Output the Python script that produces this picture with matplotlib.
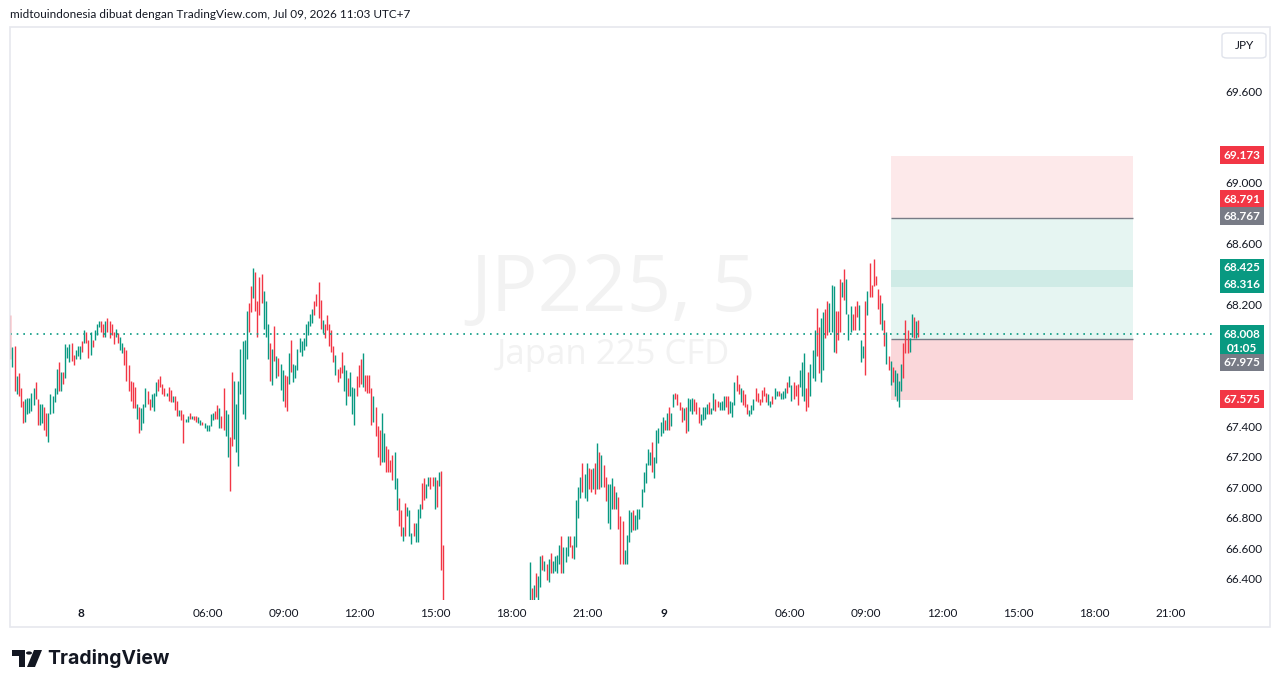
import matplotlib
matplotlib.use("Agg")
import matplotlib.pyplot as plt
import matplotlib.patches as mpatches
import matplotlib.transforms as mtrans
import numpy as np

# ---------------- data ----------------
# session A (Jul 8, until ~15:15)
highs_a = [68.13, 67.92, 67.93, 67.73, 67.75, 67.65, 67.57, 67.58, 67.59, 67.59,
           67.62, 67.65, 67.69, 67.58, 67.55, 67.55, 67.53, 67.49, 67.49, 67.61,
           67.60, 67.65, 67.78, 67.82, 67.76, 67.76, 67.94, 67.92, 67.94, 67.95,
           67.87, 67.90, 67.93, 67.93, 67.96, 68.03, 68.02, 67.97, 68.02, 67.97,
           68.03, 68.07, 68.09, 68.09, 68.07, 68.09, 68.11, 68.09, 68.07, 68.02,
           68.04, 68.01, 67.99, 67.95, 67.92, 67.90, 67.80, 67.70, 67.69, 67.66,
           67.55, 67.53, 67.52, 67.55, 67.65, 67.63, 67.58, 67.61, 67.62, 67.69,
           67.71, 67.73, 67.68, 67.65, 67.62, 67.66, 67.64, 67.60, 67.60, 67.57,
           67.51, 67.51, 67.48, 67.45, 67.47, 67.49, 67.47, 67.47, 67.47, 67.46,
           67.44, 67.43, 67.42, 67.41, 67.41, 67.48, 67.49, 67.50, 67.54, 67.52,
           67.47, 67.65, 67.51, 67.48, 67.33, 67.76, 67.70, 67.55, 67.70, 67.91,
           67.96, 67.97, 68.16, 68.21, 68.32, 68.44, 68.41, 68.22, 68.38, 68.40,
           68.29, 68.22, 68.07, 67.95, 67.91, 68.06, 67.86, 67.85, 67.81, 67.77,
           67.74, 67.73, 67.88, 67.97, 67.81, 67.80, 67.91, 67.98, 67.96, 67.98,
           68.07, 68.09, 68.14, 68.17, 68.22, 68.27, 68.35, 68.23, 68.10, 68.07,
           68.13, 68.07, 68.03, 67.93, 67.87, 67.78, 67.79, 67.89, 67.80, 67.77,
           67.72, 67.76, 67.66, 67.65, 67.73, 67.80, 67.84, 67.88, 67.74, 67.74,
           67.74, 67.65, 67.60, 67.53, 67.40, 67.38, 67.49, 67.36, 67.27, 67.25,
           67.18, 67.21, 67.23, 67.06, 66.93, 66.85, 66.74, 66.90, 66.87, 66.85,
           66.70, 66.77, 66.77, 66.86, 66.89, 67.03, 67.06, 67.02, 67.07, 67.07,
           67.07, 67.07, 67.05, 67.10, 67.11, 66.62]
lows_a = [67.84, 67.79, 67.63, 67.61, 67.60, 67.53, 67.42, 67.43, 67.48, 67.49,
          67.50, 67.54, 67.58, 67.41, 67.41, 67.42, 67.38, 67.34, 67.30, 67.48,
          67.49, 67.56, 67.61, 67.63, 67.63, 67.68, 67.72, 67.85, 67.82, 67.83,
          67.80, 67.84, 67.86, 67.84, 67.89, 67.95, 67.95, 67.85, 67.87, 67.92,
          67.97, 68.00, 68.05, 68.02, 67.99, 67.99, 68.02, 67.98, 68.00, 67.94,
          67.99, 67.95, 67.90, 67.88, 67.80, 67.70, 67.63, 67.57, 67.52, 67.52,
          67.45, 67.36, 67.38, 67.42, 67.53, 67.55, 67.51, 67.53, 67.50, 67.60,
          67.63, 67.66, 67.61, 67.60, 67.60, 67.57, 67.56, 67.56, 67.51, 67.47,
          67.47, 67.44, 67.29, 67.43, 67.43, 67.45, 67.45, 67.44, 67.43, 67.42,
          67.41, 67.41, 67.39, 67.37, 67.37, 67.40, 67.44, 67.45, 67.45, 67.39,
          67.39, 67.38, 67.34, 67.20, 66.98, 67.27, 67.32, 67.23, 67.14, 67.61,
          67.48, 67.45, 67.84, 68.02, 68.15, 68.24, 68.16, 67.99, 68.13, 68.21,
          68.04, 67.99, 67.84, 67.70, 67.67, 67.83, 67.72, 67.73, 67.64, 67.57,
          67.53, 67.50, 67.68, 67.76, 67.69, 67.72, 67.77, 67.89, 67.86, 67.90,
          67.93, 68.00, 68.06, 68.08, 68.13, 68.19, 68.11, 68.04, 68.01, 67.98,
          68.03, 67.93, 67.89, 67.82, 67.74, 67.69, 67.72, 67.75, 67.63, 67.54,
          67.60, 67.60, 67.48, 67.41, 67.60, 67.66, 67.68, 67.66, 67.63, 67.62,
          67.62, 67.41, 67.43, 67.34, 67.20, 67.15, 67.17, 67.17, 67.10, 67.10,
          67.10, 67.05, 66.99, 66.85, 66.75, 66.68, 66.65, 66.68, 66.81, 66.68,
          66.63, 66.68, 66.64, 66.64, 66.80, 66.86, 66.92, 66.93, 67.01, 66.99,
          67.01, 66.86, 66.87, 67.01, 66.46, 66.20]
dirs_a = ("DUDUDDDUUUUUDDUUDDUUUUUDUDUUUDDUUUDUDDUDUUUDDUDDDDUDUUDDDDDDUDUUUDDUUUDDDDUDDUDDUDD"
          "UUDUDDUUDUUUUUDDUDDUUDDUUUUUUUDDUDDDDUUUDUDUDUUDDUDUUUUUUUUUUDDDDUDDDDDUDDDUUDUUUDDD"
          "UDDDDUDDDUUDDDDUUDDUDUUUDUUUDDUUD")[:206]

# session B (from ~18:30 Jul 8 to now)
highs_b = [66.51, 66.34, 66.36, 66.44, 66.42, 66.55, 66.56, 66.52, 66.50, 66.53,
           66.57, 66.52, 66.55, 66.56, 66.62, 66.68, 66.61, 66.61, 66.68, 66.68,
           66.62, 66.68, 66.92, 67.00, 67.07, 67.16, 67.09, 67.16, 67.13, 67.12,
           67.13, 67.16, 67.29, 67.23, 67.21, 67.15, 67.07, 67.02, 67.02, 67.06,
           67.01, 66.97, 66.94, 66.81, 66.78, 66.59, 66.69, 66.85, 66.84, 66.85,
           66.82, 66.86, 66.86, 66.99, 67.10, 67.16, 67.25, 67.23, 67.30, 67.20,
           67.38, 67.39, 67.43, 67.46, 67.44, 67.49, 67.53, 67.49, 67.61, 67.62,
           67.61, 67.56, 67.53, 67.52, 67.53, 67.59, 67.58, 67.59, 67.58, 67.56,
           67.53, 67.48, 67.53, 67.53, 67.55, 67.56, 67.52, 67.62, 67.58, 67.57,
           67.56, 67.57, 67.60, 67.60, 67.60, 67.57, 67.56, 67.69, 67.74, 67.68,
           67.65, 67.64, 67.61, 67.55, 67.51, 67.54, 67.58, 67.65, 67.62, 67.58,
           67.64, 67.66, 67.62, 67.61, 67.57, 67.60, 67.65, 67.63, 67.63, 67.62,
           67.63, 67.65, 67.69, 67.73, 67.67, 67.69, 67.67, 67.68, 67.77, 67.82,
           67.88, 67.65, 67.76, 67.81, 67.90, 68.03, 68.18, 68.05, 68.11, 68.15,
           68.17, 68.22, 68.21, 68.33, 68.32, 68.16, 68.16, 68.37, 68.35, 68.43,
           68.37, 68.14, 68.19, 68.14, 68.19, 68.22, 68.20, 67.97, 67.93, 68.22,
           68.29, 68.47, 68.33, 68.50, 68.39, 68.30, 68.26, 68.21, 68.10, 68.02,
           67.86, 67.83, 67.79, 67.77, 67.75, 67.70, 67.81, 67.95, 68.10, 68.03,
           67.98, 68.14, 68.12, 68.09, 68.10]
lows_b = [66.20, 66.20, 66.20, 66.28, 66.20, 66.35, 66.46, 66.45, 66.39, 66.38,
          66.44, 66.44, 66.45, 66.44, 66.50, 66.44, 66.44, 66.51, 66.55, 66.61,
          66.54, 66.53, 66.61, 66.80, 66.93, 66.97, 66.93, 66.91, 66.99, 66.97,
          66.99, 66.96, 66.99, 66.99, 67.00, 67.00, 66.91, 66.77, 66.73, 66.86,
          66.86, 66.86, 66.73, 66.50, 66.50, 66.50, 66.50, 66.64, 66.71, 66.72,
          66.72, 66.73, 66.79, 66.87, 66.97, 67.03, 67.15, 67.15, 67.10, 67.06,
          67.16, 67.29, 67.34, 67.36, 67.38, 67.38, 67.38, 67.40, 67.53, 67.58,
          67.54, 67.51, 67.43, 67.44, 67.36, 67.37, 67.50, 67.48, 67.50, 67.48,
          67.42, 67.41, 67.44, 67.45, 67.48, 67.48, 67.48, 67.51, 67.50, 67.53,
          67.51, 67.51, 67.51, 67.53, 67.48, 67.49, 67.46, 67.54, 67.63, 67.61,
          67.56, 67.54, 67.53, 67.48, 67.47, 67.48, 67.51, 67.57, 67.56, 67.54,
          67.56, 67.60, 67.56, 67.54, 67.53, 67.55, 67.58, 67.60, 67.60, 67.58,
          67.58, 67.59, 67.62, 67.66, 67.57, 67.58, 67.60, 67.54, 67.66, 67.60,
          67.57, 67.50, 67.53, 67.60, 67.72, 67.70, 67.86, 67.75, 67.69, 67.77,
          67.98, 68.00, 68.02, 68.02, 67.89, 67.88, 67.97, 68.02, 68.25, 68.23,
          68.14, 67.97, 68.02, 68.03, 68.03, 68.12, 68.03, 67.82, 67.85, 67.74,
          68.13, 68.25, 68.25, 68.32, 68.33, 68.17, 68.07, 68.03, 67.93, 67.81,
          67.77, 67.67, 67.69, 67.60, 67.57, 67.53, 67.63, 67.72, 67.88, 67.88,
          67.89, 67.99, 67.98, 67.98, 67.99]
dirs_b = ("UDUDUUDUDUDUUUUDUUUDDUUUUDUUDDUDUDUDDUUUDUDDDUUUUDUUUUUUUUDUUUUUDUDUUDDDDUDUUUDDDUUUUDUUDD"
          "UUUDDUUUDDUDDDUUUDDDDDDUUDUUDUUUDUUDDDUUUDDUUUDDUUDDUUUDDDUDUUUDDDUUUDUDDDDDDUDUDUDUUUUDDDU")

gap_slots = 40           # empty 5-min slots (price below visible range)
last_price = 68.008
position_levels = [69.173, 68.767, 68.425, 68.316, 67.975, 67.575]

price_ticks = [66.4, 66.6, 66.8, 67.0, 67.2, 67.4, 67.6, 68.2, 68.6, 69.0, 69.6]
time_labels = ["8", "06:00", "09:00", "12:00", "15:00", "18:00", "21:00",
               "9", "06:00", "09:00", "12:00", "15:00", "18:00", "21:00"]
time_slots = [33.5, 93.5, 129.5, 165.5, 201.5, 237.5, 273.5,
              309.5, 369.5, 405.5, 441.5, 477.5, 513.5, 549.5]

label_texts = ["69.173", "68.791", "68.767", "68.425", "68.316", "68.008\n01:05", "67.975", "67.575"]
label_kind = ["r", "r", "g0", "g", "g", "g", "g0", "r"]
label_ypos = [69.18, 68.89, 68.78, 68.44, 68.33, 67.96, 67.82, 67.58]

# ---------------- figure ----------------
W, H = 1281, 688
GREEN = "#089981"
RED = "#F23645"
GREY = "#787B86"
TXT = "#131722"

plt.rcParams['font.family'] = ['Lato', 'DejaVu Sans']
fig = plt.figure(figsize=(W / 100, H / 100), dpi=100)
fig.patch.set_facecolor("white")

def fx(px):
    return px / W

def fy(py):
    return 1 - py / H

ax = fig.add_axes([fx(10), fy(600), fx(1215) - fx(10), fy(27) - fy(600)])
ax.set_facecolor("white")
for s in ax.spines.values():
    s.set_visible(False)

x_a = np.arange(len(highs_a))
x_b = np.arange(len(highs_b)) + len(highs_a) + gap_slots
col_a = [GREEN if d == "U" else RED for d in dirs_a]
col_b = [GREEN if d == "U" else RED for d in dirs_b[:len(highs_b)]]
ax.vlines(x_a, lows_a, highs_a, colors=col_a, linewidth=1.0, zorder=3)
ax.vlines(x_b, lows_b, highs_b, colors=col_b, linewidth=1.0, zorder=3)

ax.set_ylim(66.262, 70.02)
ax.set_xlim(-0.15, 570.65)

# watermark
ax.text(fx(613), fy(290), "JP225, 5", transform=fig.transFigure, ha="center", va="center",
        fontsize=56, color="#F2F2F2", zorder=0, family="Open Sans")
ax.text(fx(613), fy(355), "Japan 225 CFD", transform=fig.transFigure, ha="center", va="center",
        fontsize=25, color="#F2F2F2", zorder=0, family="Open Sans")

# position tool
p0, p1 = 417.2, 531.8
top, tgt, band_hi, band_lo, entry, stop = position_levels
ax.add_patch(mpatches.Rectangle((p0, tgt), p1 - p0, top - tgt, facecolor="#FDE9EA", edgecolor="none", zorder=1))
ax.add_patch(mpatches.Rectangle((p0, entry), p1 - p0, tgt - entry, facecolor="#E6F5F2", edgecolor="none", zorder=1))
ax.add_patch(mpatches.Rectangle((p0, band_lo), p1 - p0, band_hi - band_lo, facecolor="#CFEBE6", edgecolor="none", zorder=1))
ax.add_patch(mpatches.Rectangle((p0, stop), p1 - p0, entry - stop, facecolor="#FAD7DA", edgecolor="none", zorder=1))
ax.hlines([tgt, entry], p0, p1, colors=GREY, linewidth=1.0, zorder=2)

# last price line
ax.axhline(last_price, color=GREEN, linewidth=1.2, linestyle=(0, (1, 3)), zorder=4)

# axes ticks
ax.yaxis.tick_right()
ax.set_yticks(price_ticks)
ax.set_yticklabels([f"{v:.3f}" for v in price_ticks])
ax.tick_params(axis="y", length=0, pad=34, labelsize=8.5, labelcolor=TXT)
for t in ax.get_yticklabels():
    t.set_horizontalalignment("right")
ax.set_xticks(time_slots)
ax.set_xticklabels(time_labels)
ax.tick_params(axis="x", length=0, pad=6, labelsize=8.5, labelcolor=TXT)
for t in ax.get_xticklabels():
    if ":" not in t.get_text():
        t.set_fontweight("bold")

# price labels
tr = mtrans.blended_transform_factory(fig.transFigure, ax.transData)
kcol = {"r": RED, "g": GREEN, "g0": GREY}
for txt, k, yv in zip(label_texts, label_kind, label_ypos):
    ax.text(fx(1242), yv, txt, transform=tr, ha="center", va="center", fontsize=8.5,
            color="white", fontweight="bold", clip_on=False, zorder=6, linespacing=1.35,
            bbox=dict(boxstyle="square,pad=0.28", facecolor=kcol[k], edgecolor="none"))

# frame
fig.add_artist(mpatches.Rectangle((fx(10), fy(627)), fx(1270) - fx(10), fy(27) - fy(627),
                                  transform=fig.transFigure, fill=False, edgecolor="#E6E8EE", linewidth=1.2))
# JPY button
fig.add_artist(mpatches.FancyBboxPatch((fx(1222), fy(58)), fx(44), fy(33) - fy(58),
                                       boxstyle="round,pad=0,rounding_size=0.004", transform=fig.transFigure,
                                       facecolor="white", edgecolor="#E0E3EB", linewidth=1.0))
fig.text(fx(1244), fy(45.5), "JPY", ha="center", va="center", fontsize=8.5, color=TXT)

# header
fig.text(fx(10), fy(14), "midtouindonesia dibuat dengan TradingView.com, Jul 09, 2026 11:03 UTC+7",
         ha="left", va="center", fontsize=8.5, color=TXT)

# TradingView logo
def P(pts):
    return [(fx(a), fy(b)) for a, b in pts]
fig.add_artist(mpatches.Polygon(P([(12, 650), (25, 650), (25, 667), (19, 667), (19, 656), (12, 656)]),
                                closed=True, transform=fig.transFigure, facecolor=TXT, edgecolor="none"))
fig.add_artist(mpatches.Circle((fx(29), fy(653)), 3 / W, transform=fig.transFigure, facecolor=TXT, edgecolor="none"))
fig.add_artist(mpatches.Polygon(P([(34, 650), (42, 650), (35, 667), (27, 667)]),
                                closed=True, transform=fig.transFigure, facecolor=TXT, edgecolor="none"))
fig.text(fx(47), fy(658), "TradingView", ha="left", va="center", fontsize=14, fontweight="bold",
         color=TXT, family=["Inter", "DejaVu Sans"])

fig.savefig("out.png", dpi=100, facecolor="white")
